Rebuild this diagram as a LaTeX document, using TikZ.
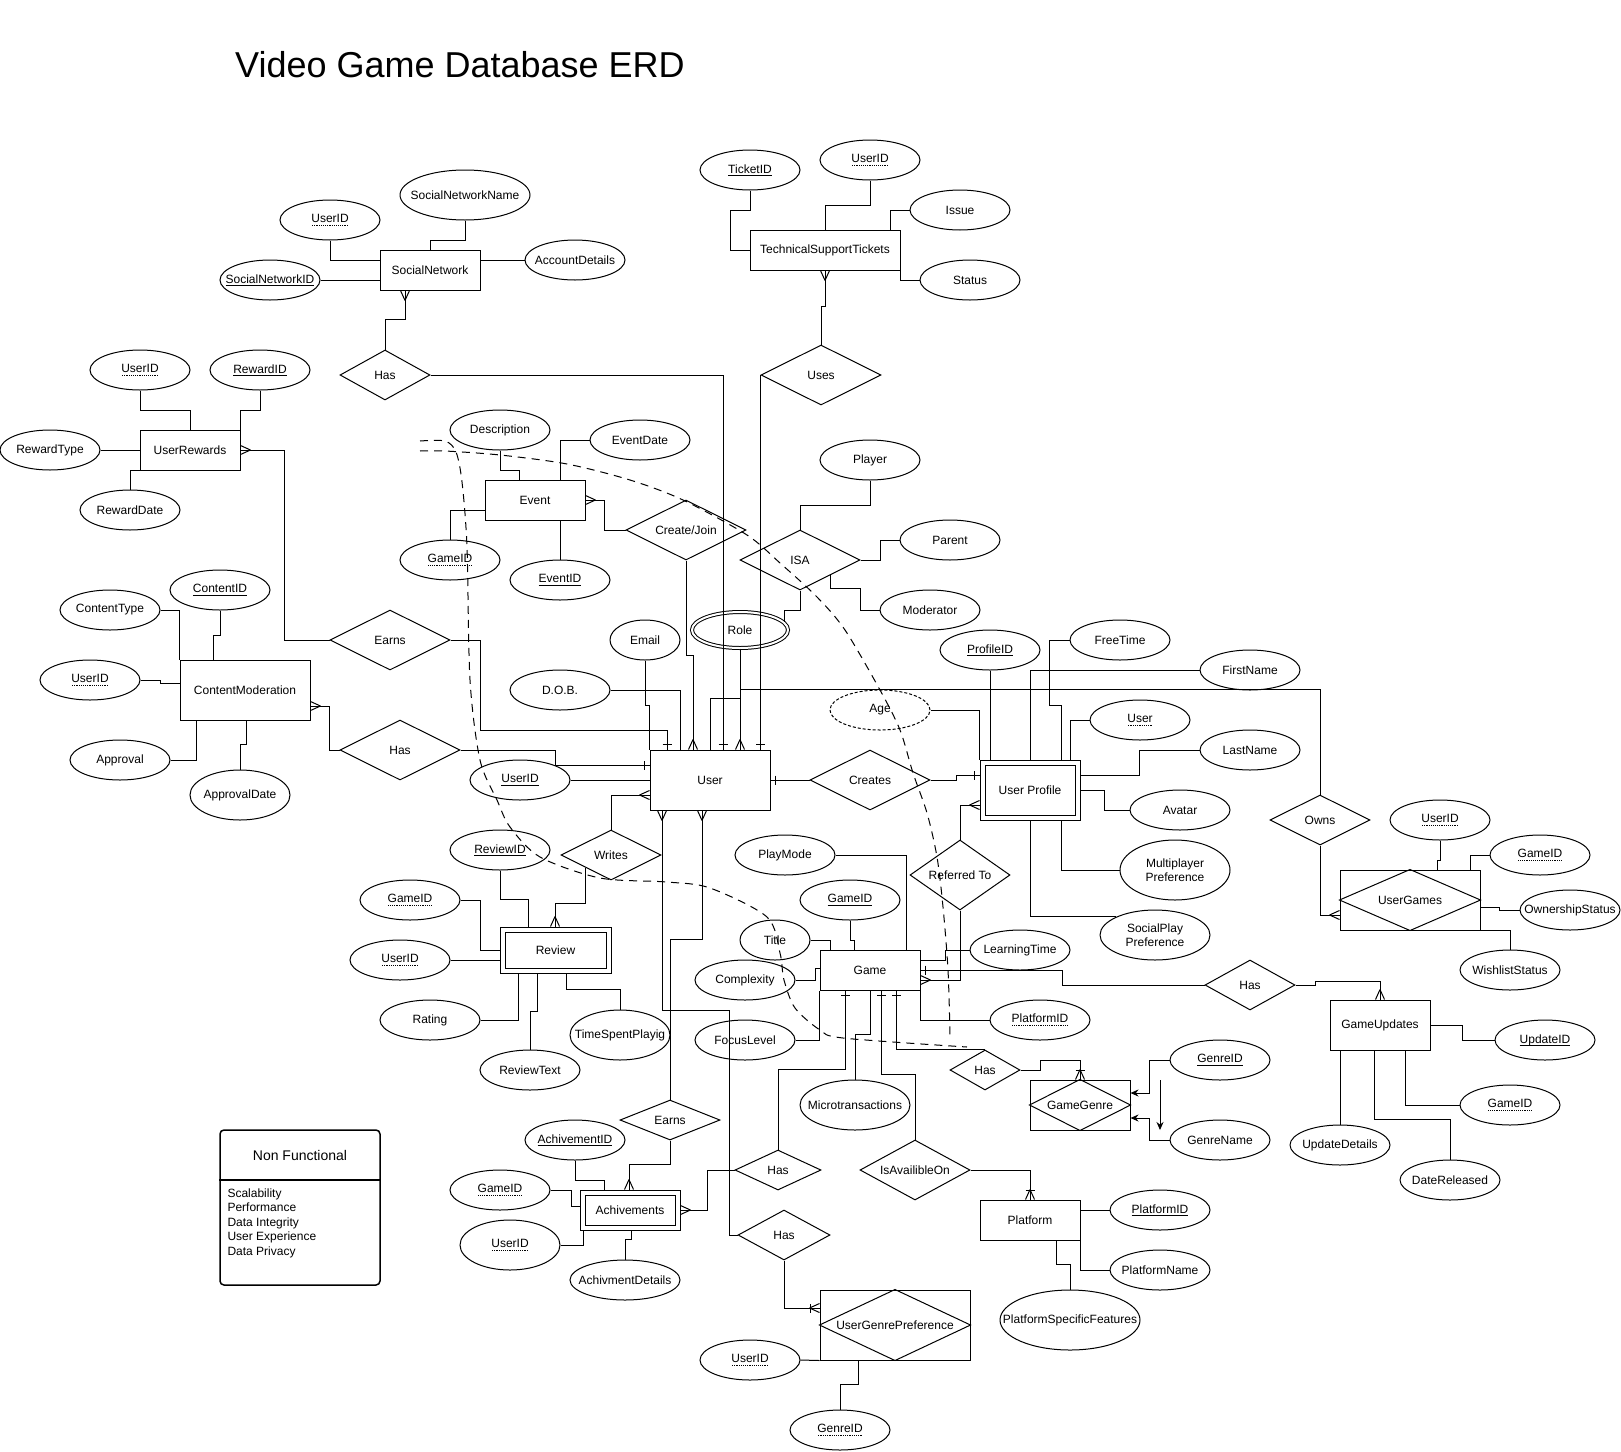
\documentclass[tikz,border=0pt]{standalone}
\usepackage{fontspec}
\setmainfont{Liberation Sans}
\usetikzlibrary{shapes.geometric,arrows.meta,decorations.markings}

\newcommand\pkey[1]{\setbox0=\hbox{#1}\rlap{\raisebox{-2.6pt}{\rule{\wd0}{0.7pt}}}\box0}
\newcommand\fkey[1]{\setbox0=\hbox{#1}\rlap{\raisebox{-3pt}{\hbox to \wd0{\xleaders\hbox to 1.8pt{\hss\rule{0.9pt}{0.9pt}\hss}\hfil}}}\box0}

\begin{document}
\begin{tikzpicture}[x=1pt,y=-1pt,line width=1pt]
        \tikzset{every node/.style={font=\fontsize{12pt}{14.5pt}\selectfont},
            entity/.style 2 args={draw,rectangle,inner sep=0pt,minimum width=#1pt,minimum height=#2pt},
            weak/.style 2 args={entity={#1}{#2},double,double distance=4pt,outer sep=3pt},
            rel/.style 2 args={draw,diamond,aspect=2,inner sep=0pt,minimum width=#1pt,minimum height=#2pt},
            attr/.style 2 args={draw,ellipse,inner xsep=-45pt,inner ysep=0pt,align=center,minimum width=#1pt,minimum height=#2pt},
            derived/.style={dash pattern=on 3pt off 2pt},
            dashline/.style={dash pattern=on 8pt off 6pt},
            filled/.style={-{Stealth[length=8pt,width=7pt]}},
            many/.style={postaction={decorate,decoration={markings,
                mark=at position -10pt with {\draw[line width=1pt] (0pt,0pt) -- (10pt,4.5pt) (0pt,0pt) -- (10pt,-4.5pt);}}}},
            one/.style={postaction={decorate,decoration={markings,
                mark=at position -5pt with {\draw[line width=1pt] (0pt,-4.5pt) -- (0pt,4.5pt);}}}},
            onemany/.style={postaction={decorate,decoration={markings,
                mark=at position -10pt with {\draw[line width=1pt] (0pt,0pt) -- (10pt,4.5pt) (0pt,0pt) -- (10pt,-4.5pt);},
                mark=at position -9pt with {\draw[line width=1pt] (0pt,-4.5pt) -- (0pt,4.5pt);}}}}}
        \useasboundingbox (0,0) rectangle (1621,1451);

        \node[font=\fontsize{36pt}{43pt}\selectfont] (title) at (460,65) {Video Game Database ERD};

        \node[entity={100}{40}] (sn) at (430,270) {SocialNetwork};
        \node[entity={150}{40}] (tst) at (825,250) {TechnicalSupportTickets};
        \node[entity={100}{40}] (ur) at (190,450) {UserRewards};
        \node[entity={130}{60}] (cm) at (245,690) {ContentModeration};
        \node[entity={100}{40}] (ev) at (535,500) {Event};
        \node[entity={120}{60}] (usr) at (710,780) {User};
        \node[entity={100}{40}] (game) at (870,970) {Game};
        \node[entity={100}{50}] (gu) at (1380,1025) {GameUpdates};
        \node[entity={100}{40}] (plat) at (1030,1220) {Platform};
        \node[weak={106}{41}] (rev) at (555.5,950) {Review};
        \node[weak={95}{35}] (ach) at (630,1210) {Achivements};
        \node[weak={95}{55}] (up) at (1030,790) {User Profile};
        \node[entity={140}{60}] (ug) at (1410,900) {UserGames};
        \node[entity={100}{50}] (gg) at (1080,1105) {GameGenre};
        \node[entity={150}{70}] (ugp) at (895,1325) {UserGenrePreference};
        \draw (ug.west) -- (ug.north) -- (ug.east) -- (ug.south) -- cycle;
        \draw (gg.west) -- (gg.north) -- (gg.east) -- (gg.south) -- cycle;
        \draw (ugp.west) -- (ugp.north) -- (ugp.east) -- (ugp.south) -- cycle;

        \node[rel={90}{50}] (snHas) at (385,375) {Has};
        \node[rel={120}{60}] (uses) at (821,375) {Uses};
        \node[rel={120}{60}] (urEarns) at (390,640) {Earns};
        \node[rel={120}{60}] (cmHas) at (400,750) {Has};
        \node[rel={120}{60}] (cj) at (686,530) {Create/Join};
        \node[rel={120}{60}] (isa) at (800,560) {ISA};
        \node[rel={120}{60}] (creates) at (870,780) {Creates};
        \node[rel={100}{70}] (refTo) at (960,875) {Referred To};
        \node[rel={100}{50}] (writes) at (611,855) {Writes};
        \node[rel={100}{50}] (owns) at (1320,820) {Owns};
        \node[rel={100}{40}] (achEarns) at (670,1120) {Earns};
        \node[rel={86}{40}] (achHas) at (778,1170) {Has};
        \node[rel={92}{50}] (ugpHas) at (784,1235) {Has};
        \node[rel={110}{60}] (isOn) at (915,1170) {IsAvailibleOn};
        \node[rel={70}{40}] (ggHas) at (985,1070) {Has};
        \node[rel={90}{50}] (guHas) at (1250,985) {Has};

        \node[attr={100}{40}] (snUid) at (330,220) {\fkey{UserID}};
        \node[attr={100}{40}] (snId) at (270,280) {\pkey{SocialNetworkID}};
        \node[attr={130}{50}] (snName) at (465,195) {SocialNetworkName};
        \node[attr={100}{40}] (snAcc) at (575,260) {AccountDetails};
        \node[attr={100}{40}] (tId) at (750,170) {\pkey{TicketID}};
        \node[attr={100}{40}] (tUid) at (870,160) {\fkey{UserID}};
        \node[attr={100}{40}] (tIssue) at (960,210) {Issue};
        \node[attr={100}{40}] (tStatus) at (970,280) {Status};
        \node[attr={100}{40}] (urUid) at (140,370) {\fkey{UserID}};
        \node[attr={100}{40}] (urRid) at (260,370) {\pkey{RewardID}};
        \node[attr={100}{40}] (urType) at (50,450) {RewardType};
        \node[attr={100}{40}] (urDate) at (130,510) {RewardDate};
        \node[attr={100}{40}] (cmCid) at (220,590) {\pkey{ContentID}};
        \node[attr={100}{40}] (cmType) at (110,610) {ContentType};
        \node[attr={100}{40}] (cmUid) at (90,680) {\fkey{UserID}};
        \node[attr={100}{40}] (cmAppr) at (120,760) {Approval};
        \node[attr={100}{50}] (cmDate) at (240,795) {ApprovalDate};
        \node[attr={100}{40}] (evDesc) at (500,430) {Description};
        \node[attr={100}{40}] (evDate) at (640,440) {EventDate};
        \node[attr={100}{40}] (evGid) at (450,560) {\fkey{GameID}};
        \node[attr={100}{40}] (evId) at (560,580) {\pkey{EventID}};
        \node[attr={100}{40}] (uId) at (520,780) {\pkey{UserID}};
        \node[attr={100}{40}] (uDob) at (560,690) {D.O.B.};
        \node[attr={70}{40}] (uEmail) at (645,640) {Email};
        \node[attr={96}{36},double,double distance=2pt] (uRole) at (740,630) {Role};
        \node[attr={100}{40}] (player) at (870,460) {Player};
        \node[attr={100}{40}] (parent) at (950,540) {Parent};
        \node[attr={100}{40}] (moder) at (930,610) {Moderator};
        \node[attr={100}{40}] (rId) at (500,850) {\pkey{ReviewID}};
        \node[attr={100}{40}] (rGid) at (410,900) {\fkey{GameID}};
        \node[attr={100}{40}] (rUid) at (400,960) {\fkey{UserID}};
        \node[attr={100}{40}] (rRating) at (430,1020) {Rating};
        \node[attr={100}{40}] (rText) at (530,1070) {ReviewText};
        \node[attr={100}{50}] (rTime) at (620,1035) {TimeSpentPlayig};
        \node[attr={100}{40}] (aId) at (575,1140) {\pkey{AchivementID}};
        \node[attr={100}{40}] (aGid) at (500,1190) {\fkey{GameID}};
        \node[attr={100}{50}] (aUid) at (510,1245) {\fkey{UserID}};
        \node[attr={110}{40}] (aDet) at (625,1280) {AchivmentDetails};
        \node[attr={100}{40}] (pUid) at (750,1360) {\fkey{UserID}};
        \node[attr={100}{40}] (pGid) at (840,1430) {\fkey{GenreID}};
        \node[attr={100}{40}] (gId) at (850,900) {\pkey{GameID}};
        \node[attr={100}{40}] (gMode) at (785,855) {PlayMode};
        \node[attr={70}{40}] (gTitle) at (775,940) {Title};
        \node[attr={100}{40}] (gCplx) at (745,980) {Complexity};
        \node[attr={100}{40}] (gFocus) at (745,1040) {FocusLevel};
        \node[attr={110}{50}] (gMicro) at (855,1105) {Microtransactions};
        \node[attr={100}{40}] (gLearn) at (1020,950) {LearningTime};
        \node[attr={100}{40}] (gPid) at (1040,1020) {\fkey{PlatformID}};
        \node[attr={100}{40}] (pfId) at (1160,1210) {\pkey{PlatformID}};
        \node[attr={100}{40}] (pfName) at (1160,1270) {PlatformName};
        \node[attr={140}{60}] (pfFeat) at (1070,1320) {PlatformSpecificFeatures};
        \node[attr={100}{40}] (ggId) at (1220,1060) {\pkey{GenreID}};
        \node[attr={100}{40}] (ggName) at (1220,1140) {GenreName};
        \node[attr={100}{40}] (guId) at (1545,1040) {\pkey{UpdateID}};
        \node[attr={100}{40}] (guGid) at (1510,1105) {\fkey{GameID}};
        \node[attr={100}{40}] (guDet) at (1340,1145) {UpdateDetails};
        \node[attr={100}{40}] (guDate) at (1450,1180) {DateReleased};
        \node[attr={100}{40}] (upId) at (990,650) {\pkey{ProfileID}};
        \node[attr={100}{40},derived] (upAge) at (880,710) {Age};
        \node[attr={100}{40}] (upFree) at (1120,640) {FreeTime};
        \node[attr={100}{40}] (upFirst) at (1250,670) {FirstName};
        \node[attr={100}{40}] (upUser) at (1140,720) {\fkey{User}};
        \node[attr={100}{40}] (upLast) at (1250,750) {LastName};
        \node[attr={100}{40}] (upAvatar) at (1180,810) {Avatar};
        \node[attr={110}{60}] (upMulti) at (1175,870) {Multiplayer\\Preference};
        \node[attr={110}{50}] (upSocial) at (1155,935) {SocialPlay\\Preference};
        \node[attr={100}{40}] (ugUid) at (1440,820) {\fkey{UserID}};
        \node[attr={100}{40}] (ugGid) at (1540,855) {\fkey{GameID}};
        \node[attr={100}{40}] (ugOwn) at (1570,910) {OwnershipStatus};
        \node[attr={100}{40}] (ugWish) at (1510,970) {WishlistStatus};

        \draw (snUid.south) |- (sn.west |- 0,260);
        \draw (snId.east) -- (sn.west |- snId.east);
        \draw (snName.south) -- ++(0,20) -| (sn.north);
        \draw (snAcc.west) -- (sn.east |- snAcc.west);
        \draw[many] (snHas.north) -- ++(0,-30) -| (405,0 |- sn.south);
        \draw[one] (snHas.east) -| (723,0 |- usr.north);

        \draw (tId.south) -- ++(0,20) -- ++(-20,0) |- (tst.west);
        \draw (tUid.south) -- ++(0,25) -| (tst.north);
        \draw (tIssue.west) -| (890,0 |- tst.north);
        \draw (tStatus.west) -| (tst.south east);
        \draw[many] (uses.north) -- ++(0,-38) -| (tst.south);
        \draw[one] (uses.west) -- (uses.west |- usr.north);

        \draw (urUid.south) -- ++(0,20) -| (ur.north);
        \draw (urRid.south) -- ++(0,20) -| (ur.north east);
        \draw (urType.east) -- (ur.west);
        \draw (urDate.north) |- (ur.south west);
        \draw[many] (urEarns.west) -- ++(-45,0) |- (ur.east);
        \draw[one] (urEarns.east) -- ++(30,0) -- ++(0,90) -| (667,0 |- usr.north);

        \draw (cmCid.south) -- ++(0,25) -| (213,0 |- cm.north);
        \draw (cmType.east) -| (cm.north west);
        \draw (cmUid.east) -- ++(20,0) |- (cm.west |- 0,683);
        \draw (cmAppr.east) -| (196,0 |- cm.south);
        \draw (cmDate.north) -- ++(0,-25) -| (246,0 |- cm.south);
        \draw[many] (cmHas.west) -- ++(-10,0) |- (cm.east |- 0,706);
        \draw[one] (cmHas.east) -- ++(95,0) |- (usr.west |- 0,765);

        \draw (evDesc.south) -- ++(0,20) -| (519,0 |- ev.north);
        \draw (evDate.west) -| (560,0 |- ev.north);
        \draw (evGid.north) |- (ev.west |- 0,510);
        \draw (evId.north) -- (evId.north |- ev.south);
        \draw[many] (cj.west) -- ++(-21,0) |- (ev.east);
        \draw[many] (cj.south) -- ++(0,95) -| (693,0 |- usr.north);

        \draw (uId.east) -- (usr.west);
        \draw (uDob.east) -| (680,0 |- usr.north);
        \draw (uEmail.south) -- ++(0,45) -| (usr.north west);
        \draw (uRole.south) -- ++(0,50) -| (710,0 |- usr.north);
        \draw (isa.south) -- ++(0,20) -| (uRole.10);
        \draw (player.south) -- ++(0,25) -| (isa.north);
        \draw (isa.east) -- ++(20,0) |- (parent.west);
        \draw (isa.south east) -- ++(0,13) -- ++(30,0) |- (moder.west);
        \draw[many] (owns.north) -- ++(0,-105) -| (740,0 |- usr.north);
        \draw[many] (owns.south) |- (ug.west |- 0,915);
        \draw[one] (creates.west) -- (usr.east);
        \draw[one] (creates.east) -- ++(26,0) |- (up.west |- 0,775);
        \draw[many] (refTo.north) |- (up.west |- 0,805);
        \draw[many] (refTo.south) |- (game.east |- 0,980);

        \draw (upId.south) -- (upId.south |- up.north);
        \draw (upAge.east) -| (up.north west);
        \draw (upFree.west) -- ++(-20,0) -- ++(0,65) -| (1061,0 |- up.north);
        \draw (upFirst.west) -| (up.north);
        \draw (upUser.west) -| (1070,0 |- up.north);
        \draw (upLast.west) -- ++(-60,0) |- (up.east |- 0,775);
        \draw (upAvatar.west) -- ++(-25,0) |- (up.east);
        \draw (upMulti.west) -| (1061,0 |- up.south);
        \draw (up.south) |- (upSocial.155);

        \draw (ugUid.south) -- ++(0,20) -| (1437,0 |- ug.north);
        \draw (ugGid.west) -| (1470,0 |- ug.north);
        \draw (ugOwn.west) -- ++(-20,0) |- (ug.east |- 0,907);
        \draw (ugWish.north) |- (ug.south east);

        \draw[many] (writes.north) |- (usr.west |- 0,795);
        \draw[many] (writes.south west) -- ++(0,36) -| (555,0 |- rev.north);
        \draw (rId.south) -- ++(0,29) -| (528,0 |- rev.north);
        \draw (rGid.east) -- ++(20,0) |- (rev.west);
        \draw (rUid.east) -- (rev.west |- rUid.east);
        \draw (rRating.east) -| (518,0 |- rev.south);
        \draw (rText.north) -- ++(0,-38) -| (537,0 |- rev.south);
        \draw (rTime.north) -- ++(0,-20) -| (566,0 |- rev.south);

        \draw[many] (achEarns.north) -- ++(0,-160) -| (702,0 |- usr.south);
        \draw[many] (ugpHas.west) -- ++(-8,0) -- ++(0,-225) -| (662,0 |- usr.south);
        \draw[onemany] (ugpHas.south) |- (ugp.west |- 0,1308);
        \draw[many] (achEarns.south) -- ++(0,24) -| (629,0 |- ach.north);
        \draw (aId.south) -- ++(0,20) -| (604,0 |- ach.north);
        \draw (aGid.east) -- ++(21,0) |- (ach.west |- 0,1206);
        \draw (aUid.east) -| (583,0 |- ach.south);
        \draw (aDet.north) -- ++(0,-20) -| (631,0 |- ach.south);
        \draw[many] (achHas.west) -- ++(-27,0) |- (ach.east);
        \draw[one] (achHas.north) -- ++(0,-80) -| (845,0 |- game.south);

        \draw (pUid.east) -- (ugp.south west);
        \draw (pGid.north) -- ++(0,-25) -| (858,0 |- ugp.south);

        \draw (gId.south) -- ++(0,20) -| (854,0 |- game.north);
        \draw (gMode.east) -| (906,0 |- game.north);
        \draw (gTitle.east) -| (830,0 |- game.north);
        \draw (gCplx.east) -- ++(20,0) |- (game.west |- 0,968);
        \draw (gFocus.east) -| (game.south west);
        \draw (gMicro.north) -- ++(0,-45) -| (870,0 |- game.south);
        \draw (gLearn.west) -- ++(-24,0) |- (game.east |- 0,960);
        \draw (gPid.west) -| (game.south east);
        \draw[one] (isOn.north) -- ++(0,-65) -| (881,0 |- game.south);
        \draw[onemany] (isOn.east) -| (plat.north);
        \draw (pfId.west) -- (plat.east |- pfId.west);
        \draw (pfName.west) -| (plat.south east);
        \draw (pfFeat.north) -- ++(0,-25) -| (1056,0 |- plat.south);

        \draw[one] (ggHas.north) -| (896,0 |- game.south);
        \draw[onemany] (ggHas.east) -- ++(20,0) -- ++(0,-10) -| (gg.north);
        \draw[filled] (ggId.west) -- ++(-20,0) |- (gg.east |- 0,1093);
        \draw[filled] (ggName.west) -- ++(-20,0) |- (gg.east |- 0,1118);
        \coordinate (strayTop) at (1160,1080);
        \coordinate (strayEnd) at (1160,1130);
        \draw[filled] (strayTop) -- (strayEnd);

        \draw[one] (guHas.west) -- ++(-142,0) |- (game.east |- 0,970);
        \draw[many] (guHas.east) -- ++(20,0) -- ++(0,-4) -| (gu.north);
        \draw (guId.west) -- ++(-32,0) |- (gu.east);
        \draw (guGid.west) -| (1405,0 |- gu.south);
        \draw (guDet.north) -- (guDet.north |- gu.south);
        \draw (guDate.north) -- ++(0,-40) -| (1374,0 |- gu.south);

        \draw[dashline] plot[smooth,tension=.5] coordinates {(420,451) (445,451) (500,455) (567,464) (630,480) (683,500) (747,535) (780,563) (817,597) (845,630) (880,690) (900,730) (913,773) (927,813) (937,857) (943,907) (948,970) (950,1035)};
        \draw[dashline] plot[smooth,tension=.5] coordinates {(420,441) (445,441) (456,452) (462,482) (467,547) (470,680) (480,760) (497,800) (510,827) (540,857) (600,878) (667,882) (710,888) (767,917) (780,953) (784,980) (795,1008) (820,1030) (843,1038) (967,1047)};

        \node[draw,rounded corners=4pt,line width=1.5pt,minimum width=160pt,minimum height=155pt] (nf) at (300,1207.5) {};
        \draw[line width=1.5pt] (nf.west |- 0,1180) -- (nf.east |- 0,1180);
        \node[font=\fontsize{14pt}{17pt}\selectfont] (nfHead) at (300,1155) {Non Functional};
        \node[anchor=north west,align=left,inner sep=0pt] (nfList) at (227,1188) {Scalability\\Performance\\Data Integrity\\User Experience\\Data Privacy};
\end{tikzpicture}
\end{document}
